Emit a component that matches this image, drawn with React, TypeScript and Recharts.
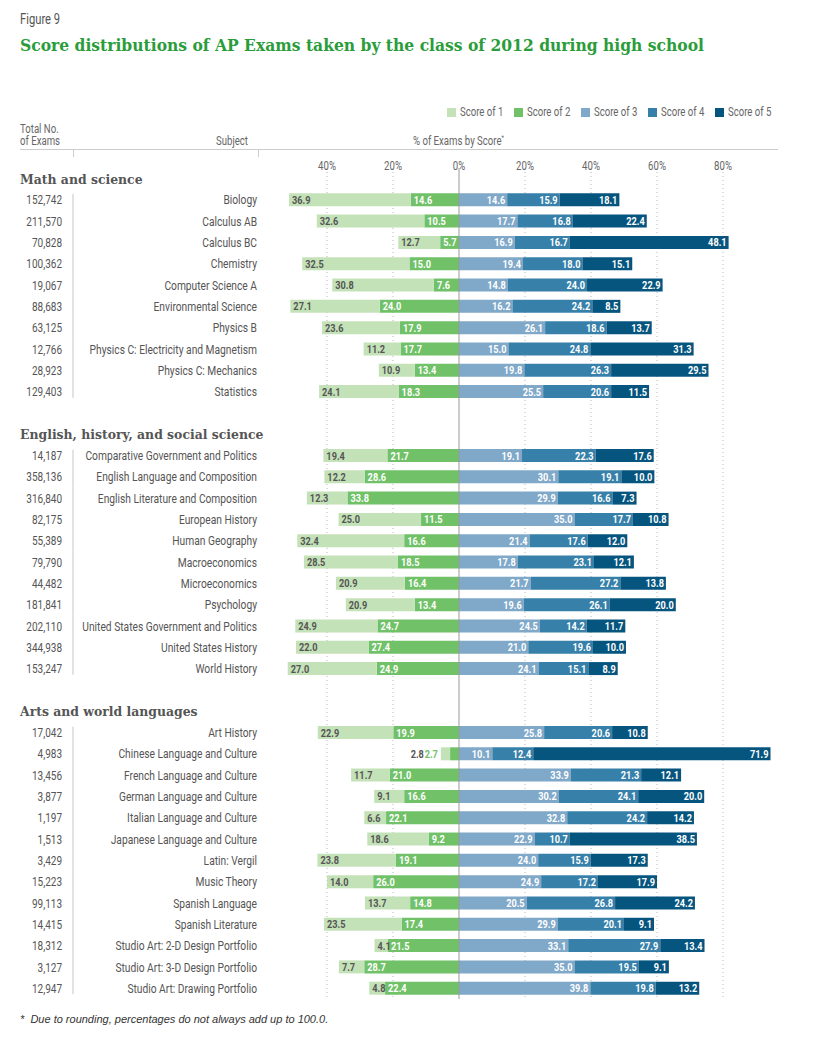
import { BarChart, Bar, XAxis, YAxis, CartesianGrid, ReferenceLine, LabelList } from 'recharts'

const sectionNames = ['Math and science', 'English, history, and social science', 'Arts and world languages']
const sectionSizes = [10, 11, 13]

const subjects = [
  'Biology', 'Calculus AB', 'Calculus BC', 'Chemistry', 'Computer Science A', 'Environmental Science',
  'Physics B', 'Physics C: Electricity and Magnetism', 'Physics C: Mechanics', 'Statistics',
  'Comparative Government and Politics', 'English Language and Composition', 'English Literature and Composition',
  'European History', 'Human Geography', 'Macroeconomics', 'Microeconomics', 'Psychology',
  'United States Government and Politics', 'United States History', 'World History',
  'Art History', 'Chinese Language and Culture', 'French Language and Culture', 'German Language and Culture',
  'Italian Language and Culture', 'Japanese Language and Culture', 'Latin: Vergil', 'Music Theory',
  'Spanish Language', 'Spanish Literature', 'Studio Art: 2-D Design Portfolio', 'Studio Art: 3-D Design Portfolio',
  'Studio Art: Drawing Portfolio',
]
const totals = [
  '152,742', '211,570', '70,828', '100,362', '19,067', '88,683', '63,125', '12,766', '28,923', '129,403',
  '14,187', '358,136', '316,840', '82,175', '55,389', '79,790', '44,482', '181,841', '202,110', '344,938', '153,247',
  '17,042', '4,983', '13,456', '3,877', '1,197', '1,513', '3,429', '15,223', '99,113', '14,415', '18,312', '3,127', '12,947',
]
const score1 = [
  36.9, 32.6, 12.7, 32.5, 30.8, 27.1, 23.6, 11.2, 10.9, 24.1,
  19.4, 12.2, 12.3, 25.0, 32.4, 28.5, 20.9, 20.9, 24.9, 22.0, 27.0,
  22.9, 2.8, 11.7, 9.1, 6.6, 18.6, 23.8, 14.0, 13.7, 23.5, 4.1, 7.7, 4.8,
]
const score2 = [
  14.6, 10.5, 5.7, 15.0, 7.6, 24.0, 17.9, 17.7, 13.4, 18.3,
  21.7, 28.6, 33.8, 11.5, 16.6, 18.5, 16.4, 13.4, 24.7, 27.4, 24.9,
  19.9, 2.7, 21.0, 16.6, 22.1, 9.2, 19.1, 26.0, 14.8, 17.4, 21.5, 28.7, 22.4,
]
const score3 = [
  14.6, 17.7, 16.9, 19.4, 14.8, 16.2, 26.1, 15.0, 19.8, 25.5,
  19.1, 30.1, 29.9, 35.0, 21.4, 17.8, 21.7, 19.6, 24.5, 21.0, 24.1,
  25.8, 10.1, 33.9, 30.2, 32.8, 22.9, 24.0, 24.9, 20.5, 29.9, 33.1, 35.0, 39.8,
]
const score4 = [
  15.9, 16.8, 16.7, 18.0, 24.0, 24.2, 18.6, 24.8, 26.3, 20.6,
  22.3, 19.1, 16.6, 17.7, 17.6, 23.1, 27.2, 26.1, 14.2, 19.6, 15.1,
  20.6, 12.4, 21.3, 24.1, 24.2, 10.7, 15.9, 17.2, 26.8, 20.1, 27.9, 19.5, 19.8,
]
const score5 = [
  18.1, 22.4, 48.1, 15.1, 22.9, 8.5, 13.7, 31.3, 29.5, 11.5,
  17.6, 10.0, 7.3, 10.8, 12.0, 12.1, 13.8, 20.0, 11.7, 10.0, 8.9,
  10.8, 71.9, 12.1, 20.0, 14.2, 38.5, 17.3, 17.9, 24.2, 9.1, 13.4, 9.1, 13.2,
]
const xTicks = [-40, -20, 0, 20, 40, 60, 80]
const legendNames = ['Score of 1', 'Score of 2', 'Score of 3', 'Score of 4', 'Score of 5']
const colors = ['#c4e2b8', '#70c167', '#7fa8c9', '#3680aa', '#06557f']

const NARROW = "Roboto, 'DejaVu Sans Condensed', sans-serif"
const SERIF = "'DejaVu Serif Condensed', 'DejaVu Serif', serif"
const SX = 0.8
const HALF_ROW = 10.65

type Row = {
  key: string
  kind: 'header' | 'blank' | 'item'
  label: string
  total?: string
  first?: boolean
  last?: boolean
  n1: number | null
  n2: number | null
  p3: number | null
  p4: number | null
  p5: number | null
}

const rows: Row[] = []
let cursor = 0
sectionNames.forEach((name, s) => {
  const empty = { n1: null, n2: null, p3: null, p4: null, p5: null }
  if (s > 0) rows.push({ key: 'blank' + s, kind: 'blank', label: '', ...empty })
  rows.push({ key: 'head' + s, kind: 'header', label: name, ...empty })
  for (let i = 0; i < sectionSizes[s]; i++) {
    const k = cursor + i
    rows.push({
      key: subjects[k],
      kind: 'item',
      label: subjects[k],
      total: totals[k],
      first: i === 0,
      last: i === sectionSizes[s] - 1,
      n1: -score1[k],
      n2: -score2[k],
      p3: score3[k],
      p4: score4[k],
      p5: score5[k],
    })
  }
  cursor += sectionSizes[s]
})

// narrow text: the original uses a condensed face, so squeeze Roboto horizontally
function NText({ x, y, anchor = 'start', children, ...rest }: any) {
  return (
    <text transform={`translate(${x} ${y}) scale(${SX} 1)`} x={0} y={0} textAnchor={anchor} fontFamily={NARROW} {...rest}>
      {children}
    </text>
  )
}

function RowTick(props: any) {
  const { y, payload } = props
  const row = rows.find((r) => r.key === payload.value)
  if (!row || row.kind === 'blank') return <g />
  if (row.kind === 'header') {
    return (
      <text x={20} y={y} dy={5} fontFamily={SERIF} fontWeight="bold" fontSize={13.8} fill="#555">
        {row.label}
      </text>
    )
  }
  return (
    <g>
      <NText x={62} y={y + 4.5} anchor="end" fontSize={12.5} fill="#555">
        {row.total}
      </NText>
      <NText x={257} y={y + 4.5} anchor="end" fontSize={12.8} fill="#555">
        {row.label}
      </NText>
      <line
        x1={73}
        x2={73}
        y1={row.first ? y - 6 : y - HALF_ROW}
        y2={row.last ? y + 6 : y + HALF_ROW}
        stroke="#d8d8d8"
        strokeWidth={1.5}
      />
    </g>
  )
}

const fields: Record<number, keyof Row> = { 1: 'n1', 2: 'n2', 3: 'p3', 4: 'p4', 5: 'p5' }

const makeLabel = (score: number) => (props: any) => {
  const { x, y, width, height, value } = props
  const row = rows.find((r) => r.key === value)
  if (!row || row.kind !== 'item') return null
  const v = Math.abs(Number(row[fields[score]]))
  const left = Math.min(x, x + width)
  const right = Math.max(x, x + width)
  const cy = y + height / 2 + 4
  const base = { fontSize: 11.5, fontWeight: 'bold' }
  const small1 = Math.abs(Number(row.n1)) < 3
  const small2 = Math.abs(Number(row.n2)) < 3
  if (score <= 2 && small1 && small2) {
    const ppu = Math.abs(width) / v
    const totalLeft = score === 1 ? left : left - Math.abs(Number(row.n1)) * ppu
    const xr = score === 1 ? totalLeft - 17 : totalLeft - 3
    return (
      <NText x={xr} y={cy} anchor="end" fill={score === 1 ? '#555' : colors[1]} {...base}>
        {v.toFixed(1)}
      </NText>
    )
  }
  if (score <= 2) {
    return (
      <NText x={left + 3} y={cy} anchor="start" fill={score === 1 ? '#555' : '#fff'} {...base}>
        {v.toFixed(1)}
      </NText>
    )
  }
  return (
    <NText x={right - 2} y={cy} anchor="end" fill="#fff" {...base}>
      {v.toFixed(1)}
    </NText>
  )
}

const seriesOrder = [2, 1, 3, 4, 5]

// dotted gridlines only at the labelled ticks (not the 0 line, drawn solid on top)
const gridLines = ({ xAxis, offset }: any) => {
  const s = xAxis && xAxis.scale
  const pts = xTicks.filter((t) => t !== 0)
  if (typeof s === 'function') return pts.map((t) => s(t))
  return pts.map((t) => offset.left + ((t + 60) / 160) * offset.width)
}

const hStyle = { position: 'absolute' as const, fontFamily: NARROW, fontSize: 12, color: '#666', whiteSpace: 'nowrap' as const }
const squeeze = (origin: string) => ({ display: 'inline-block', transform: `scaleX(${SX})`, transformOrigin: origin })

export default function App() {
  return (
    <div style={{ position: 'absolute', left: 0, top: 0, width: 820, height: 1064, background: '#fff' }}>
      <div style={{ ...hStyle, left: 20, top: 11, fontSize: 14, color: '#555' }}>
        <span style={squeeze('left')}>Figure 9</span>
      </div>
      <div
        style={{
          position: 'absolute',
          left: 20,
          top: 35,
          fontFamily: SERIF,
          fontWeight: 'bold',
          fontSize: 17.3,
          color: '#2a9d3a',
          whiteSpace: 'nowrap',
        }}
      >
        Score distributions of AP Exams taken by the class of 2012 during high school
      </div>

      {legendNames.map((name, i) => (
        <div key={name} style={{ ...hStyle, left: 447 + i * 67, top: 105, display: 'flex', alignItems: 'center' }}>
          <span style={{ display: 'inline-block', width: 9, height: 9, background: colors[i], marginRight: 4 }} />
          <span style={squeeze('left')}>{name}</span>
        </div>
      ))}

      <div style={{ ...hStyle, left: 20, top: 123, lineHeight: '12px' }}>
        <span style={squeeze('left')}>Total No.</span>
        <br />
        <span style={squeeze('left')}>of Exams</span>
      </div>
      <div style={{ ...hStyle, left: 216, top: 134 }}>
        <span style={squeeze('left')}>Subject</span>
      </div>
      <div style={{ ...hStyle, left: 413, top: 134 }}>
        <span style={squeeze('left')}>
          % of Exams by Score<sup style={{ fontSize: 7 }}>*</sup>
        </span>
      </div>
      <div style={{ position: 'absolute', left: 20, top: 149, width: 758, height: 1, background: '#ccc' }} />
      <div style={{ position: 'absolute', left: 73, top: 149, width: 1, height: 8, background: '#ccc' }} />
      <div style={{ position: 'absolute', left: 258, top: 149, width: 1, height: 8, background: '#ccc' }} />

      <div style={{ position: 'absolute', left: 0, top: 0 }}>
        <BarChart
          width={820}
          height={1064}
          data={rows}
          layout="vertical"
          stackOffset="sign"
          barSize={13}
          margin={{ top: 148, right: 31, bottom: 65, left: 0 }}
        >
          <CartesianGrid
            horizontal={false}
            vertical
            verticalCoordinatesGenerator={gridLines}
            strokeDasharray="1 3"
            stroke="#b8b8b8"
          />
          <XAxis
            type="number"
            orientation="top"
            domain={[-60, 100]}
            ticks={xTicks}
            allowDataOverflow
            height={20}
            axisLine={false}
            tickLine={false}
            tick={(p: any) => (
              <NText x={p.x} y={p.y + 10} anchor="middle" fontSize={12} fill="#666">
                {`${Math.abs(p.payload.value)}%`}
              </NText>
            )}
          />
          <YAxis type="category" dataKey="key" width={261} axisLine={false} tickLine={false} tick={RowTick} interval={0} />
          {seriesOrder.map((score) => (
            <Bar key={score} dataKey={fields[score] as string} stackId="a" fill={colors[score - 1]} isAnimationActive={false}>
              <LabelList dataKey="key" content={makeLabel(score)} />
            </Bar>
          ))}
          <ReferenceLine x={0} stroke="#999" strokeWidth={1} />
        </BarChart>
      </div>

      <div
        style={{
          position: 'absolute',
          left: 20,
          top: 1013,
          fontFamily: "'Liberation Sans', Arial, sans-serif",
          fontStyle: 'italic',
          fontSize: 11,
          color: '#333',
          whiteSpace: 'nowrap',
        }}
      >
        *&nbsp; Due to rounding, percentages do not always add up to 100.0.
      </div>
    </div>
  )
}
